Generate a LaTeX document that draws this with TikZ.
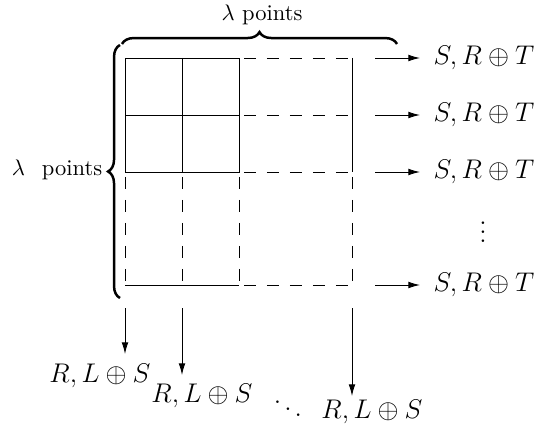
\documentclass[tikz,border=0pt]{standalone}
\usetikzlibrary{decorations.pathreplacing,arrows.meta}
\begin{document}
\begin{tikzpicture}[x=0.4444pt,y=-0.4444pt,
  gridline/.style={line width=0.35pt},
  gdash/.style={line width=0.35pt,dash pattern=on 5.33pt off 4.89pt,dash phase=8pt},
  arr/.style={line width=0.4pt,-{Latex[length=5.2pt,width=3pt]}},
  brc/.style={decorate,decoration={brace,amplitude=5.3pt},line width=1.1pt},
  mlab/.style={font=\large,inner sep=0pt},
  tlab/.style={font=\normalsize,inner sep=0pt}]
\useasboundingbox (0,0) rectangle (534,428);
% grid coordinates
\coordinate (a1) at (125,58);  \coordinate (b1) at (182,58);  \coordinate (c1) at (239,58);  \coordinate (d1) at (352,58);
\coordinate (a2) at (125,115); \coordinate (b2) at (182,115); \coordinate (c2) at (239,115); \coordinate (d2) at (352,115);
\coordinate (a3) at (125,172); \coordinate (b3) at (182,172); \coordinate (c3) at (239,172); \coordinate (d3) at (352,172);
\coordinate (a4) at (125,285); \coordinate (b4) at (182,285); \coordinate (c4) at (239,285); \coordinate (d4) at (352,285);
% solid part
\draw[gridline] (a1) rectangle (c3);
\draw[gridline] (b1) -- (b3);
\draw[gridline] (a2) -- (c2);
\draw[gridline] (d1) -- (d3);
\draw[gridline] (a4) -- (c4);
% dashed part
\draw[gdash] (c1) -- (d1);
\draw[gdash] (c2) -- (d2);
\draw[gdash] (c3) -- (d3);
\draw[gdash] (c4) -- (d4);
\draw[gdash] (a3) -- (a4);
\draw[gdash] (b3) -- (b4);
\draw[gdash] (c3) -- (c4);
\draw[gdash] (d3) -- (d4);
% braces
\coordinate (tb1) at (122,44); \coordinate (tb2) at (397,44);
\coordinate (lb1) at (120,298); \coordinate (lb2) at (120,45);
\draw[brc] (tb1) -- (tb2);
\draw[brc] (lb1) -- (lb2);
\node[tlab] (toplab) at (262,15) {$\lambda$ points};
\node[tlab] (leftlab) at (57,170) {$\lambda$\hspace{4.2pt} points};
% right arrows
\coordinate (s1) at (375,58);
\coordinate (s2) at (375,115);
\coordinate (s3) at (375,172);
\coordinate (s4) at (375,285);
\node[mlab,anchor=west,inner xsep=5.8pt] (r1) at (420,58) {$S, R \oplus T$};
\node[mlab,anchor=west,inner xsep=5.8pt] (r2) at (420,115) {$S, R \oplus T$};
\node[mlab,anchor=west,inner xsep=5.8pt] (r3) at (420,172) {$S, R \oplus T$};
\node[mlab,anchor=west,inner xsep=5.8pt] (r4) at (420,285) {$S, R \oplus T$};
\node[mlab] (vd) at (483,225) {$\vdots$};
\draw[arr] (s1) -- (r1.west);
\draw[arr] (s2) -- (r2.west);
\draw[arr] (s3) -- (r3.west);
\draw[arr] (s4) -- (r4.west);
% bottom arrows
\coordinate (t1) at (125,308); \coordinate (e1) at (125,354);
\coordinate (t2) at (182,308); \coordinate (e2) at (182,375);
\coordinate (t3) at (352,308); \coordinate (e3) at (352,396);
\draw[arr] (t1) -- (e1);
\draw[arr] (t2) -- (e2);
\draw[arr] (t3) -- (e3);
\node[mlab] (l1) at (100,376) {$R, L \oplus S$};
\node[mlab] (l2) at (202,396) {$R, L \oplus S$};
\node[mlab] (l3) at (372,412) {$R, L \oplus S$};
\node[mlab] (dd) at (288,402) {$\ddots$};
\end{tikzpicture}
\end{document}
